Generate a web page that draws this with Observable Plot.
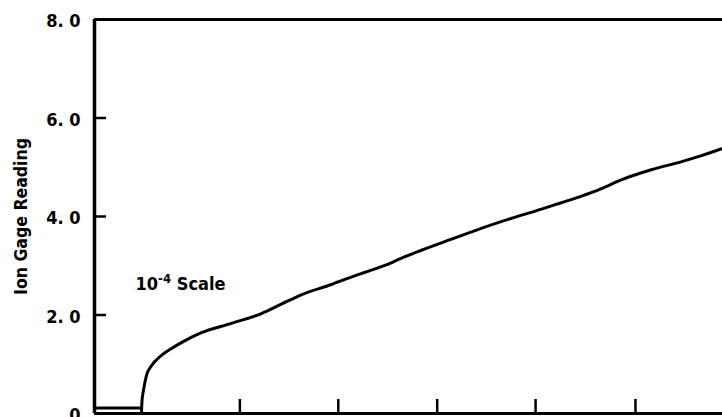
<!DOCTYPE html>
<html><head><meta charset="utf-8">
<script src="https://cdn.jsdelivr.net/npm/d3@7"></script>
<script src="https://cdn.jsdelivr.net/npm/@observablehq/plot@0.6"></script>
<style>
body{margin:0;background:#fff}
#chart svg{font-family:"Liberation Sans Narrow","DejaVu Sans Condensed","DejaVu Sans",sans-serif;font-stretch:condensed;font-weight:bold;}
</style></head><body><div id="chart"></div>
<script>
// Data
const baseX = [0, 4.75];
const baseY = [0.11, 0.11];
const curveX = [4.75, 4.8, 4.95, 5.25, 5.76, 6.77, 7.78, 8.79, 10.81, 13.84, 16.87, 18.89, 20.91, 23.94, 25.96, 27.98, 30.0, 31.0, 33.0, 36.1, 39.1, 42.1, 45.2, 47.2, 49.2, 51.2, 53.2, 56.3, 59.3, 61.3, 63.5];
const curveY = [0.0, 0.25, 0.47, 0.77, 0.97, 1.18, 1.32, 1.44, 1.64, 1.83, 2.03, 2.22, 2.41, 2.62, 2.77, 2.91, 3.06, 3.15, 3.31, 3.54, 3.76, 3.96, 4.15, 4.28, 4.41, 4.56, 4.74, 4.95, 5.11, 5.23, 5.38];
const yTickValues = [0, 2, 4, 6, 8];
const yTickLabels = ["0", "2. 0", "4. 0", "6. 0", "8. 0"];
const yTickMarks = [2, 4, 6];
const xTickMarks = [14.7, 24.65, 34.65, 44.6, 54.7];
const yTitle = "Ion Gage Reading";
const note = {x: 4.15, y: 2.62, base: "10", exp: "-4", rest: " Scale"};

const base = baseX.map((x, i) => ({x, y: baseY[i]}));
const curve = curveX.map((x, i) => ({x, y: curveY[i]}));

const chart = Plot.plot({
  width: 722, height: 417,
  marginLeft: 94, marginRight: 0, marginTop: 19, marginBottom: 4,
  x: {domain: [0, 63.5]},
  y: {domain: [0, 8]},
  marks: [
    Plot.axisY({ticks: yTickValues, tickSize: 0, tickPadding: 14, fontSize: 18, fontWeight: "bold",
      tickFormat: d => yTickLabels[yTickValues.indexOf(d)], dy: 2,
      label: yTitle, labelAnchor: "center", labelArrow: "none", labelOffset: 80}),
    Plot.axisY({ticks: yTickMarks, tickSize: -12, tickFormat: () => "", label: null, strokeWidth: 2.5}),
    Plot.axisX({ticks: xTickMarks, tickSize: -14, tickFormat: () => "", label: null, strokeWidth: 2.5}),
    Plot.ruleY([0], {strokeWidth: 3}),
    Plot.ruleY([8], {strokeWidth: 3}),
    Plot.ruleX([0], {strokeWidth: 3.5}),
    Plot.line(base, {x: "x", y: "y", strokeWidth: 3, stroke: "black"}),
    Plot.line(curve, {x: "x", y: "y", strokeWidth: 3, stroke: "black", curve: "monotone-x"}),
    Plot.text([note], {x: "x", y: "y", text: d => d.base, textAnchor: "start", fontSize: 18, fontWeight: "bold"})
  ]
});
document.getElementById("chart").appendChild(chart);

// superscript exponent on the annotation
const svg = d3.select(chart);
svg.selectAll('g[aria-label="text"] text').each(function() {
  const t = d3.select(this);
  t.text(note.base);
  t.append("tspan").attr("dy", -7).attr("font-size", 13).text(note.exp);
  t.append("tspan").attr("dy", 7).text(note.rest);
});
svg.selectAll('g[aria-label="y-axis label"] text').attr("font-size", 17.5).attr("font-weight", "bold");
</script></body></html>
